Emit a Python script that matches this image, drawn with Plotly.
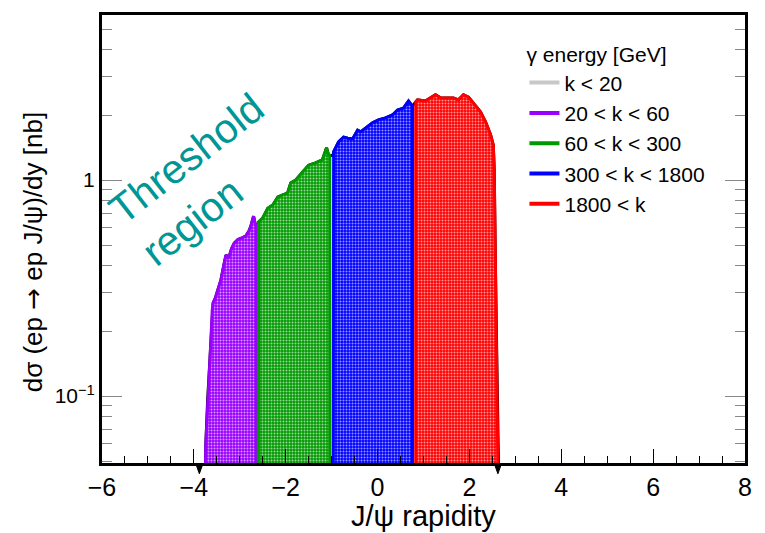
import plotly.graph_objects as go

# J/psi rapidity (x) and dsigma/dy in nb (y) for each photon-energy band
rap_20_60 = [-3.78, -3.74, -3.70, -3.66, -3.63, -3.60, -3.58, -3.53, -3.45, -3.41, -3.33,
             -3.30, -3.24, -3.18, -3.12, -3.04, -2.95, -2.87, -2.80, -2.76, -2.70, -2.66, -2.64]
xs_20_60 = [0.02, 0.06, 0.096, 0.14, 0.18, 0.25, 0.27, 0.285, 0.32, 0.345, 0.42,
            0.45, 0.435, 0.48, 0.51, 0.53, 0.54, 0.55, 0.58, 0.61, 0.68, 0.62, 0.62]

rap_60_300 = [-2.60, -2.59, -2.50, -2.39, -2.28, -2.17, -2.07, -1.96, -1.89, -1.78,
              -1.63, -1.50, -1.35, -1.20, -1.11, -1.07, -1.04]
xs_60_300 = [0.62, 0.64, 0.667, 0.74, 0.766, 0.834, 0.853, 0.87, 0.97, 1.0,
             1.09, 1.17, 1.20, 1.24, 1.41, 1.31, 1.30]

rap_300_1800 = [-0.97, -0.957, -0.848, -0.739, -0.652, -0.543, -0.435, -0.37, -0.26, -0.109,
                0.022, 0.174, 0.326, 0.435, 0.565, 0.674, 0.739, 0.76]
xs_300_1800 = [1.30, 1.35, 1.50, 1.58, 1.56, 1.55, 1.70, 1.67, 1.74, 1.84,
               1.90, 1.94, 2.00, 2.11, 2.15, 2.32, 2.22, 2.20]

rap_1800 = [0.83, 0.87, 1.04, 1.15, 1.26, 1.37, 1.52, 1.65, 1.76, 1.87, 1.98, 2.09,
            2.24, 2.35, 2.46, 2.52, 2.54, 2.57, 2.62, 2.66]
xs_1800 = [2.30, 2.35, 2.32, 2.40, 2.48, 2.40, 2.40, 2.40, 2.35, 2.48, 2.42, 2.27,
           2.07, 1.86, 1.62, 1.45, 1.11, 0.344, 0.058, 0.02]

band_labels = ["k < 20", "20 < k < 60", "60 < k < 300", "300 < k < 1800", "1800 < k"]
band_colors = ["#c8c8c8", "#9900ff", "#009900", "#0000ff", "#ff0000"]

bands = [
    (rap_20_60, xs_20_60, band_colors[1]),
    (rap_60_300, xs_60_300, band_colors[2]),
    (rap_300_1800, xs_300_1800, band_colors[3]),
    (rap_1800, xs_1800, band_colors[4]),
]

BASE = 0.01  # below the visible y range, so filled shapes run off the bottom

fig = go.Figure()

# total outline (black) drawn underneath the coloured bands
tot_x, tot_y = [], []
for rx, ry, _ in bands:
    tot_x += rx
    tot_y += ry
fig.add_trace(go.Scatter(x=tot_x, y=tot_y, mode="lines",
                         line=dict(color="black", width=3),
                         showlegend=False, hoverinfo="skip"))

for rx, ry, col in bands:
    px = [rx[0]] + rx + [rx[-1]]
    py = [BASE] + ry + [BASE]
    fig.add_trace(go.Scatter(
        x=px, y=py, mode="lines", fill="toself",
        line=dict(color=col, width=3),
        fillcolor=col,
        fillpattern=dict(shape=".", bgcolor=col, fgcolor="white",
                         fgopacity=0.6, size=3, solidity=0.35),
        showlegend=False, hoverinfo="skip"))

# legend entries
for lab, col in zip(band_labels, band_colors):
    fig.add_trace(go.Scatter(x=[None], y=[None], mode="lines",
                             line=dict(color=col, width=4), name=lab))

# markers under the axis at the ends of the spectrum
edge_x = [rap_20_60[0] - 0.1, rap_1800[-1] - 0.04]
for ex in edge_x:
    fig.add_shape(type="path", xref="x", yref="paper",
                  path=f"M{ex - 0.07},-0.004 L{ex + 0.07},-0.004 L{ex},-0.024 Z",
                  fillcolor="black", line=dict(color="black", width=1))

font_family = "Liberation Sans, Arial, Helvetica, sans-serif"

minor_y = [0.05, 0.06, 0.07, 0.08, 0.09, 0.2, 0.3, 0.4, 0.5, 0.6, 0.7, 0.8, 0.9, 2, 3, 4, 5]

ytitle = ("d\u03c3 (ep <span style=\"font-family:DejaVu Sans\">\u2192</span> "
          "ep J/\u03c8)/dy [nb]")

fig.update_layout(
    width=765, height=533,
    margin=dict(l=102, r=20, t=15, b=70),
    plot_bgcolor="white", paper_bgcolor="white",
    font=dict(family=font_family, color="black"),
    xaxis=dict(
        range=[-6, 8], showgrid=False, zeroline=False,
        showline=True, linecolor="black", linewidth=3, mirror=True,
        ticks="inside", ticklen=14, tickwidth=1, tickcolor="black",
        tickvals=[-6, -4, -2, 0, 2, 4, 6, 8],
        ticktext=["\u22126", "\u22124", "\u22122", "0", "2", "4", "6", "8"],
        tickfont=dict(size=25),
        minor=dict(ticks="inside", ticklen=7, tickwidth=1, tickcolor="black",
                   dtick=0.5, tick0=0),
    ),
    yaxis=dict(
        type="log", range=[-1.31, 0.764], showgrid=False, zeroline=False,
        showline=True, linecolor="black", linewidth=3, mirror="allticks",
        ticks="inside", ticklen=20, tickwidth=1, tickcolor="#888888",
        tickvals=[0.1, 1], ticktext=["10<sup>\u22121</sup>", "1"],
        tickfont=dict(size=21),
        minor=dict(ticks="inside", ticklen=10, tickwidth=1, tickcolor="#888888",
                   tickvals=minor_y),
    ),
    legend=dict(
        x=0.657, y=0.955, xanchor="left", yanchor="top",
        bgcolor="rgba(0,0,0,0)", borderwidth=0,
        font=dict(size=21),
        title=dict(text="\u03b3 energy [GeV]", font=dict(size=21)),
        tracegroupgap=0,
    ),
    annotations=[
        dict(text="J/\u03c8 rapidity", xref="paper", yref="paper",
             x=0.5, y=-0.118, xanchor="center", yanchor="middle",
             showarrow=False, font=dict(size=29)),
        dict(text=ytitle, xref="paper", yref="paper",
             x=-0.106, y=0.47, xanchor="center", yanchor="middle", textangle=-90,
             showarrow=False, font=dict(size=26)),
        dict(text="Threshold<br>region", xref="paper", yref="paper",
             x=0.157, y=0.632, xanchor="center", yanchor="middle", align="left",
             textangle=-38, showarrow=False,
             font=dict(size=41, color="#009696")),
    ],
)

fig.write_html("out.html")
